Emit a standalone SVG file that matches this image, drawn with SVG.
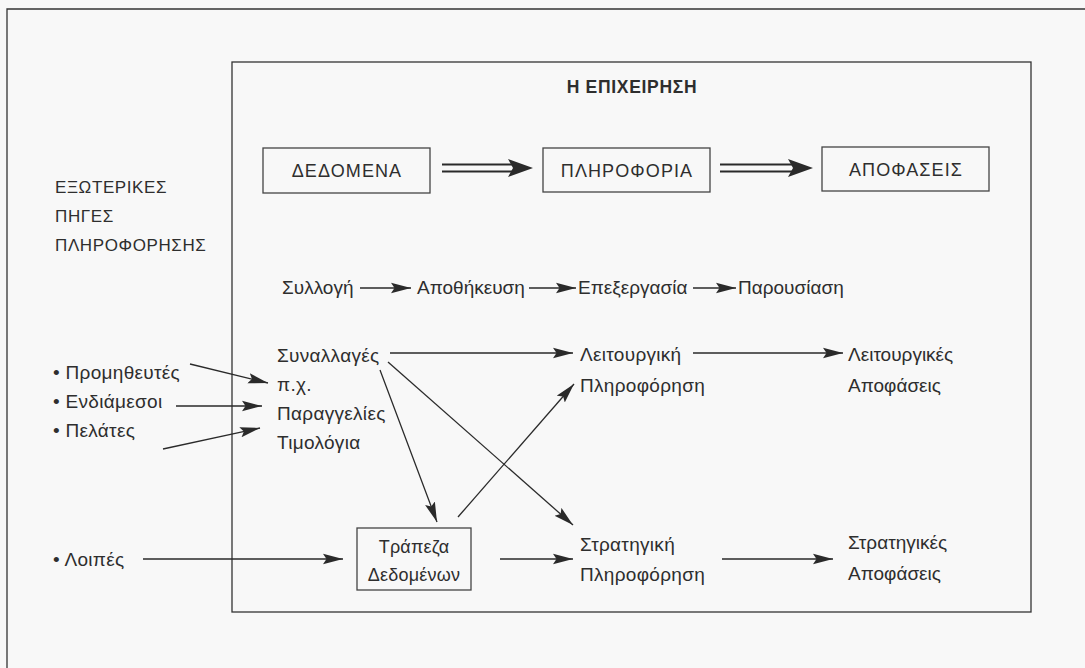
<svg xmlns="http://www.w3.org/2000/svg" width="1085" height="668" viewBox="0 0 1085 668">
<style>
text{font-family:"Liberation Sans",Arial,sans-serif;fill:#2e2e2e;font-size:19px;letter-spacing:0.3px}
.cap{font-size:17px;letter-spacing:0.6px}
.bcap{font-size:18px;letter-spacing:1.1px}
.ttl{font-weight:bold;font-size:17.5px;letter-spacing:0.7px}
.row{letter-spacing:0px}
.sm{font-size:18px;letter-spacing:0.2px}
.mid{text-anchor:middle}
.box{fill:none;stroke:#444;stroke-width:1.3}
.frame{fill:none;stroke:#333;stroke-width:1.3}
.ar{stroke:#2a2a2a;stroke-width:1.3;fill:none;marker-end:url(#ah)}
.dbl{stroke:#2a2a2a;stroke-width:1.9;fill:none}
.head{fill:#2a2a2a}
</style>
<defs>
<marker id="ah" markerUnits="userSpaceOnUse" markerWidth="22" markerHeight="12" refX="20" refY="6" orient="auto">
<path d="M0,0.8 L20,6 L0,11.2 L3.5,6 Z" fill="#2a2a2a"/>
</marker>
</defs>
<rect width="1085" height="668" fill="#f8f8f8"/>
<path class="frame" d="M7,668 V9 H1085" stroke-width="2"/>
<rect class="frame" x="232" y="62" width="799" height="550"/>

<g id="title"><text class="ttl mid" x="632" y="93">Η ΕΠΙΧΕΙΡΗΣΗ</text></g>

<g id="dedomena"><rect class="box" x="263" y="148" width="167" height="45"/><text class="bcap mid" x="347" y="177">ΔΕΔΟΜΕΝΑ</text></g>
<g id="pliroforia"><rect class="box" x="543" y="148" width="167" height="44"/><text class="bcap mid" x="627" y="176.5">ΠΛΗΡΟΦΟΡΙΑ</text></g>
<g id="apofaseis"><rect class="box" x="822" y="147" width="167" height="44"/><text class="bcap mid" x="906" y="175.5">ΑΠΟΦΑΣΕΙΣ</text></g>

<g id="external-sources">
<text class="cap" x="55" y="193">ΕΞΩΤΕΡΙΚΕΣ</text>
<text class="cap" x="55" y="222">ΠΗΓΕΣ</text>
<text class="cap" x="55" y="251">ΠΛΗΡΟΦΟΡΗΣΗΣ</text>
</g>

<g id="process">
<text class="row" x="282" y="294">Συλλογή</text>
<text class="row" x="417" y="294">Αποθήκευση</text>
<text class="row" x="578" y="294">Επεξεργασία</text>
<text class="row" x="738" y="294">Παρουσίαση</text>
</g>

<g id="suppliers"><text x="53" y="379">• Προμηθευτές</text></g>
<g id="intermediaries"><text x="53" y="408">• Ενδιάμεσοι</text></g>
<g id="customers"><text x="53" y="437">• Πελάτες</text></g>
<g id="others"><text x="53" y="566">• Λοιπές</text></g>

<g id="transactions">
<text x="277" y="362">Συναλλαγές</text>
<text x="277" y="391">π.χ.</text>
<text x="277" y="420">Παραγγελίες</text>
<text x="277" y="449">Τιμολόγια</text>
</g>

<g id="operational-info">
<text x="580" y="361">Λειτουργική</text>
<text x="580" y="392">Πληροφόρηση</text>
</g>
<g id="operational-decisions">
<text class="row" x="848" y="361">Λειτουργικές</text>
<text class="row" x="848" y="392">Αποφάσεις</text>
</g>

<g id="databank">
<rect class="box" x="357" y="528" width="114" height="62"/>
<text class="sm mid" x="414" y="553">Τράπεζα</text>
<text class="sm mid" x="414" y="581">Δεδομένων</text>
</g>

<g id="strategic-info">
<text x="580" y="551">Στρατηγική</text>
<text x="580" y="581">Πληροφόρηση</text>
</g>
<g id="strategic-decisions">
<text class="row" x="848" y="549">Στρατηγικές</text>
<text class="row" x="848" y="580">Αποφάσεις</text>
</g>

<g id="connectors">
<path class="dbl" d="M442,164.5 H514 M442,171.5 H514"/>
<path class="head" d="M508,159 L533,168 L508,177 L513,168 Z"/>
<path class="dbl" d="M720,164.5 H792 M720,171.5 H792"/>
<path class="head" d="M788,159 L813,168 L788,177 L793,168 Z"/>

<path class="ar" d="M360,288 H411"/>
<path class="ar" d="M529,288 H576"/>
<path class="ar" d="M693,288 H736"/>

<path class="ar" d="M190,364 L268,383"/>
<path class="ar" d="M176,406 L262,406"/>
<path class="ar" d="M163,449 L260,428"/>
<path class="ar" d="M143,559 H343"/>

<path class="ar" d="M390,353 H573"/>
<path class="ar" d="M693,353 H843"/>
<path class="ar" d="M388,362 L573,525"/>
<path class="ar" d="M380,370 L437,522"/>
<path class="ar" d="M458,517 L574,384"/>
<path class="ar" d="M500,559 H573"/>
<path class="ar" d="M722,559 H833"/>
</g>
</svg>
